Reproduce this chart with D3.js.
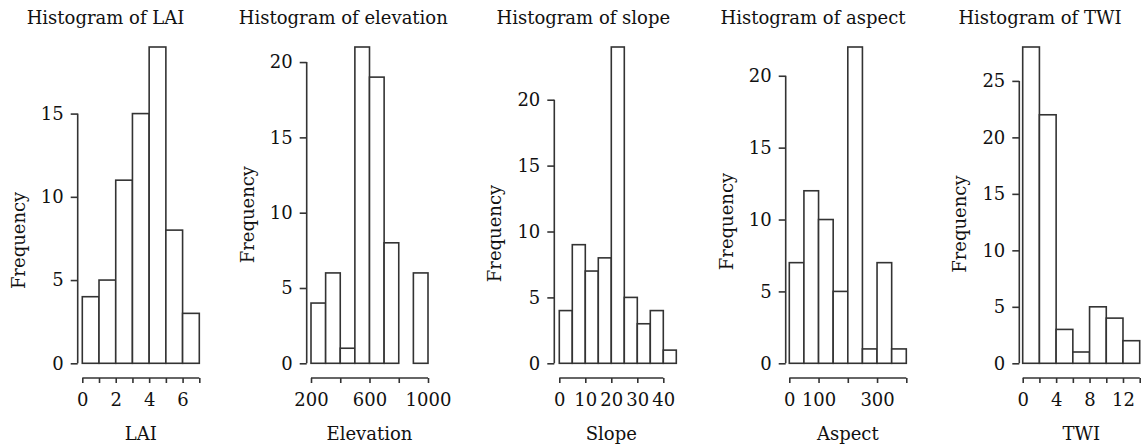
<!DOCTYPE html>
<html>
<head>
<meta charset="utf-8">
<script src="https://cdn.jsdelivr.net/npm/d3@7"></script>
<style>
  html, body { margin: 0; padding: 0; background: #fff; }
  svg text { font-family: "DejaVu Serif", serif; fill: #111; }
</style>
</head>
<body>
<svg id="chart" width="1144" height="445"></svg>
<script>
// histogram data
const titles = ['Histogram of LAI', 'Histogram of elevation', 'Histogram of slope', 'Histogram of aspect', 'Histogram of TWI'];
const xNames = ['LAI', 'Elevation', 'Slope', 'Aspect', 'TWI'];

const laiBreaks = [0, 1, 2, 3, 4, 5, 6, 7];
const laiCounts = [4, 5, 11, 15, 19, 8, 3];
const elevBreaks = [200, 300, 400, 500, 600, 700, 800, 900, 1000];
const elevCounts = [4, 6, 1, 21, 19, 8, 0, 6];
const slopeBreaks = [0, 5, 10, 15, 20, 25, 30, 35, 40, 45];
const slopeCounts = [4, 9, 7, 8, 24, 5, 3, 4, 1];
const aspectBreaks = [0, 50, 100, 150, 200, 250, 300, 350, 400];
const aspectCounts = [7, 12, 10, 5, 22, 1, 7, 1];
const twiBreaks = [0, 2, 4, 6, 8, 10, 12, 14];
const twiCounts = [28, 22, 3, 1, 5, 4, 2];

// axis ticks and which of them get a label
const laiTicks = [0, 1, 2, 3, 4, 5, 6, 7], laiTickLabels = [0, 2, 4, 6];
const elevTicks = [200, 400, 600, 800, 1000], elevTickLabels = [200, 600, 1000];
const slopeTicks = [0, 10, 20, 30, 40], slopeTickLabels = [0, 10, 20, 30, 40];
const aspectTicks = [0, 100, 200, 300, 400], aspectTickLabels = [0, 100, 300];
const twiTicks = [0, 2, 4, 6, 8, 10, 12, 14], twiTickLabels = [0, 4, 8, 12];
const laiYTicks = [0, 5, 10, 15];
const elevYTicks = [0, 5, 10, 15, 20];
const slopeYTicks = [0, 5, 10, 15, 20];
const aspectYTicks = [0, 5, 10, 15, 20];
const twiYTicks = [0, 5, 10, 15, 20, 25];

const panels = [
    {breaks: laiBreaks, counts: laiCounts, xt: laiTicks, xl: laiTickLabels, yt: laiYTicks},
    {breaks: elevBreaks, counts: elevCounts, xt: elevTicks, xl: elevTickLabels, yt: elevYTicks},
    {breaks: slopeBreaks, counts: slopeCounts, xt: slopeTicks, xl: slopeTickLabels, yt: slopeYTicks},
    {breaks: aspectBreaks, counts: aspectCounts, xt: aspectTicks, xl: aspectTickLabels, yt: aspectYTicks},
    {breaks: twiBreaks, counts: twiCounts, xt: twiTicks, xl: twiTickLabels, yt: twiYTicks}
];

// layout
const plotLeft = [82.3, 311, 559.3, 789.3, 1022.7];
const yAxisX = [77.7, 306.7, 554.3, 785.7, 1019.3];
const titleX = [105.5, 343.3, 583.3, 813, 1040];
const plotW = 117;
const yBottom = 363.3, yTop = 47;
const xAxisY = 378;
const stroke = '#333';

const svg = d3.select('#chart');

panels.forEach((p, i) => {
    const g = svg.append('g');
    const x = d3.scaleLinear()
        .domain([p.breaks[0], p.breaks[p.breaks.length - 1]])
        .range([plotLeft[i], plotLeft[i] + plotW]);
    const y = d3.scaleLinear()
        .domain([0, d3.max(p.counts)])
        .range([yBottom, yTop]);

    const bins = p.counts.map((c, k) => ({x0: p.breaks[k], x1: p.breaks[k + 1], n: c}));

    g.selectAll('rect')
        .data(bins)
        .enter()
        .append('rect')
        .attr('x', d => x(d.x0))
        .attr('width', d => x(d.x1) - x(d.x0))
        .attr('y', d => y(d.n))
        .attr('height', d => y(0) - y(d.n))
        .attr('fill', 'white')
        .attr('stroke', stroke)
        .attr('stroke-width', 1.6);

    // y axis
    const yAx = g.append('g')
        .attr('transform', `translate(${yAxisX[i]},0)`)
        .call(d3.axisLeft(y).tickValues(p.yt).tickSize(7).tickPadding(7).tickFormat(d3.format('d')));
    yAx.select('.domain').remove();
    yAx.append('line')
        .attr('y1', y(p.yt[0])).attr('y2', y(p.yt[p.yt.length - 1]))
        .attr('stroke', stroke).attr('stroke-width', 1.6);
    yAx.selectAll('.tick line').attr('stroke', stroke).attr('stroke-width', 1.6);
    yAx.selectAll('.tick text').attr('font-size', 18).attr('font-family', null).attr('fill', '#111');

    // x axis
    const xAx = g.append('g')
        .attr('transform', `translate(0,${xAxisY})`)
        .call(d3.axisBottom(x).tickValues(p.xt).tickSize(5)
            .tickFormat(d => p.xl.includes(d) ? d : ''));
    xAx.select('.domain').remove();
    xAx.append('line')
        .attr('x1', x(p.xt[0])).attr('x2', x(p.xt[p.xt.length - 1]))
        .attr('stroke', stroke).attr('stroke-width', 1.6);
    xAx.selectAll('.tick line').attr('stroke', stroke).attr('stroke-width', 1.6);
    xAx.selectAll('.tick text')
        .attr('y', 28).attr('dy', null)
        .attr('font-size', 18).attr('font-family', null).attr('fill', '#111');

    // titles and axis names
    g.append('text')
        .attr('x', titleX[i]).attr('y', 24)
        .attr('text-anchor', 'middle')
        .attr('font-size', 18)
        .text(titles[i]);

    g.append('text')
        .attr('x', (x.range()[0] + x(p.xt[p.xt.length - 1])) / 2)
        .attr('y', 440)
        .attr('text-anchor', 'middle')
        .attr('font-size', 18)
        .text(xNames[i]);

    const yMid = (y(p.yt[0]) + y(p.yt[p.yt.length - 1])) / 2 + 2;
    g.append('text')
        .attr('transform', `translate(${yAxisX[i] - 53},${yMid}) rotate(-90)`)
        .attr('text-anchor', 'middle')
        .attr('font-size', 18)
        .text('Frequency');
});
</script>
</body>
</html>
